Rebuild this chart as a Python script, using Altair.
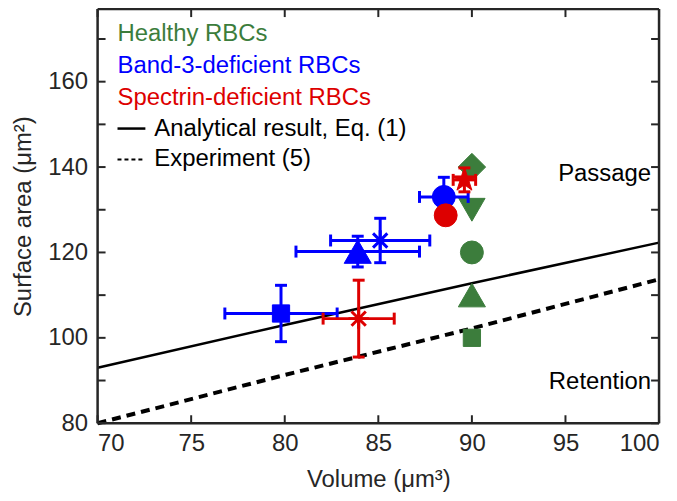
import altair as alt
import pandas as pd

# ---------------- data ----------------
line_volume = [70, 80, 90, 100]
analytical_area = [93.0, 103.0, 112.8, 122.3]
experiment_area = [80.0, 91.3, 102.2, 113.7]

healthy_markers = ["diamond", "triangle-down", "circle", "triangle-up", "square"]
healthy_volume = [90, 90, 90, 90, 90]
healthy_area = [140, 130, 120, 110, 100]

band3_markers = ["circle", "triangle-up", "asterisk", "square"]
band3_volume = [88.5, 83.9, 85.1, 79.8]
band3_area = [133.0, 120.2, 122.8, 105.7]
band3_volume_err = [1.3, 3.3, 2.65, 3.0]
band3_area_err = [4.6, 3.6, 5.2, 6.6]

spectrin_markers = ["circle", "asterisk", "pentagram"]
spectrin_volume = [88.6, 83.95, 89.6]
spectrin_area = [128.7, 104.5, 137.0]
spectrin_volume_err = [0, 1.9, 0.6]
spectrin_area_err = [0, 9.0, 2.8]

x_ticks = [70, 75, 80, 85, 90, 95, 100]
y_ticks = [80, 100, 120, 140, 160]
y_minor = [80, 90, 100, 110, 120, 130, 140, 150, 160, 170]

legend_labels = ["Healthy RBCs", "Band-3-deficient RBCs", "Spectrin-deficient RBCs",
                 "Analytical result, Eq. (1)", "Experiment (5)"]

# ---------------- styles ----------------
W, H = 564, 416
FONT = "Liberation Sans"
GREEN, BLUE, RED, AX = "#3c7d3c", "#0000ff", "#dd0000", "#262626"
ASTERISK = "M-1,0L1,0M0,-1L0,1M-0.7,-0.7L0.7,0.7M-0.7,0.7L0.7,-0.7"
STAR = ("M0,-1L0.2245,-0.309L0.951,-0.309L0.363,0.118L0.588,0.809L0,0.382"
        "L-0.588,0.809L-0.363,0.118L-0.951,-0.309L-0.2245,-0.309Z")
SHAPE = {"diamond": "diamond", "triangle-down": "triangle-down", "circle": "circle",
         "triangle-up": "triangle-up", "square": "square", "asterisk": ASTERISK,
         "pentagram": STAR}
SIZE = {"diamond": 760, "triangle-down": 700, "circle": 530, "triangle-up": 740,
        "square": 300, "asterisk": 420, "pentagram": 650}

xs = alt.Scale(domain=[70, 100], nice=False, zero=False)
ys = alt.Scale(domain=[80, 177], nice=False, zero=False)

xax = alt.Axis(values=x_ticks, grid=False, ticks=False, tickSize=0, domain=False,
               labelFontSize=24, labelFont=FONT, labelColor=AX, labelPadding=8,
               title="Volume (μm³)", titleFontSize=24, titleFont=FONT,
               titleFontWeight="normal", titleColor=AX, titlePadding=13)
yax = alt.Axis(values=y_ticks, grid=False, ticks=False, tickSize=0, domain=False,
               labelFontSize=24, labelFont=FONT, labelColor=AX, labelPadding=10,
               title="Surface area (μm²)", titleFontSize=24, titleFont=FONT,
               titleFontWeight="normal", titleColor=AX, titlePadding=12)

lines_df = pd.DataFrame({"v": line_volume, "a": analytical_area, "e": experiment_area})
base_lines = alt.Chart(lines_df)
solid = base_lines.mark_line(color="black", strokeWidth=2.5).encode(
    x=alt.X("v:Q", scale=xs, axis=xax), y=alt.Y("a:Q", scale=ys, axis=yax))
dashed = base_lines.mark_line(color="black", strokeWidth=4, strokeDash=[9, 6]).encode(
    x=alt.X("v:Q", scale=xs), y=alt.Y("e:Q", scale=ys))

def group_layers(markers, vol, area, verr, aerr, color):
    layers = []
    if verr is not None:
        df = pd.DataFrame({"x": vol, "y": area, "ex": verr, "ey": aerr})
        df = df[(df.ex > 0) | (df.ey > 0)].copy()
        df["xlo"], df["xhi"] = df.x - df.ex, df.x + df.ex
        df["ylo"], df["yhi"] = df.y - df.ey, df.y + df.ey
        b = alt.Chart(df)
        layers.append(b.mark_rule(color=color, strokeWidth=3).encode(
            x=alt.X("x:Q", scale=xs), y=alt.Y("ylo:Q", scale=ys), y2="yhi:Q"))
        layers.append(b.mark_rule(color=color, strokeWidth=3).encode(
            x=alt.X("xlo:Q", scale=xs), x2="xhi:Q", y=alt.Y("y:Q", scale=ys)))
        for yc in ["ylo", "yhi"]:
            layers.append(b.mark_tick(color=color, orient="horizontal", size=12,
                                      thickness=3, opacity=1).encode(
                x=alt.X("x:Q", scale=xs), y=alt.Y(f"{yc}:Q", scale=ys)))
        for xc in ["xlo", "xhi"]:
            layers.append(b.mark_tick(color=color, orient="vertical", size=12,
                                      thickness=3, opacity=1).encode(
                x=alt.X(f"{xc}:Q", scale=xs), y=alt.Y("y:Q", scale=ys)))
    pts = pd.DataFrame({"m": markers, "x": vol, "y": area})
    pts["shape"] = pts.m.map(SHAPE)
    pts["size"] = pts.m.map(SIZE)
    filled = pts[pts.m != "asterisk"]
    star = pts[pts.m == "asterisk"]
    if len(filled):
        layers.append(alt.Chart(filled).mark_point(filled=True, color=color, opacity=1,
                                                   stroke=color, strokeWidth=1).encode(
            x=alt.X("x:Q", scale=xs), y=alt.Y("y:Q", scale=ys),
            shape=alt.Shape("shape:N", scale=None),
            size=alt.Size("size:Q", scale=None)))
    if len(star):
        layers.append(alt.Chart(star).mark_point(filled=False, color=color, opacity=1,
                                                 strokeWidth=3).encode(
            x=alt.X("x:Q", scale=xs), y=alt.Y("y:Q", scale=ys),
            shape=alt.Shape("shape:N", scale=None),
            size=alt.Size("size:Q", scale=None)))
    return layers

healthy = group_layers(healthy_markers, healthy_volume, healthy_area, None, None, GREEN)
band3 = group_layers(band3_markers, band3_volume, band3_area, band3_volume_err,
                     band3_area_err, BLUE)
spectrin = group_layers(spectrin_markers, spectrin_volume, spectrin_area,
                        spectrin_volume_err, spectrin_area_err, RED)

# inward frame ticks and box
xt = alt.Chart(pd.DataFrame({"t": x_ticks}))
yt = alt.Chart(pd.DataFrame({"t": y_minor}))
tick_style = dict(color=AX, strokeWidth=2)
one = pd.DataFrame({"k": [0]})
frame = [
    xt.mark_rule(**tick_style).encode(x=alt.X("t:Q", scale=xs), y=alt.value(H), y2=alt.value(H - 8)),
    xt.mark_rule(**tick_style).encode(x=alt.X("t:Q", scale=xs), y=alt.value(0), y2=alt.value(8)),
    yt.mark_rule(**tick_style).encode(y=alt.Y("t:Q", scale=ys), x=alt.value(0), x2=alt.value(8)),
    yt.mark_rule(**tick_style).encode(y=alt.Y("t:Q", scale=ys), x=alt.value(W), x2=alt.value(W - 8)),
    alt.Chart(one).mark_rule(color=AX, strokeWidth=2.5).encode(
        x=alt.value(0), x2=alt.value(W), y=alt.value(0)),
    alt.Chart(one).mark_rule(color=AX, strokeWidth=2.5).encode(
        x=alt.value(0), x2=alt.value(W), y=alt.value(H)),
    alt.Chart(one).mark_rule(color=AX, strokeWidth=2.5).encode(
        y=alt.value(0), y2=alt.value(H), x=alt.value(0)),
    alt.Chart(one).mark_rule(color=AX, strokeWidth=2.5).encode(
        y=alt.value(0), y2=alt.value(H), x=alt.value(W)),
]

# legend text
leg_colors = [GREEN, BLUE, RED, "black", "black"]
leg_y = [25, 57, 89, 120, 151]
leg_x = [20, 20, 20, 57, 57]
legend = []
for lab, c, yy, xx in zip(legend_labels, leg_colors, leg_y, leg_x):
    legend.append(alt.Chart(one).mark_text(text=lab, font=FONT, fontSize=24, color=c,
                                           align="left", baseline="middle").encode(
        x=alt.value(xx), y=alt.value(yy)))
legend.append(alt.Chart(one).mark_rule(color="black", strokeWidth=2.5).encode(
    x=alt.value(20), x2=alt.value(48), y=alt.value(leg_y[3])))
legend.append(alt.Chart(one).mark_rule(color="black", strokeWidth=2, strokeDash=[4, 3]).encode(
    x=alt.value(20), x2=alt.value(48), y=alt.value(leg_y[4])))

region_labels = ["Passage", "Retention"]
regions = []
for lab, yy in zip(region_labels, [166, 375]):
    regions.append(alt.Chart(one).mark_text(text=lab, font=FONT, fontSize=24, color="black",
                                            align="right", baseline="middle").encode(
        x=alt.value(W - 8), y=alt.value(yy)))

chart = alt.layer(
    solid, dashed, *frame, *healthy, *band3, *spectrin, *legend, *regions
).properties(
    width=W, height=H,
    autosize=alt.AutoSizeParams(type="none"),
    padding={"left": 90, "top": 0, "right": 10, "bottom": 70},
).configure_view(stroke=None).configure(background="white")

chart.save("out.html", embed_options={"renderer": "svg", "actions": False})
